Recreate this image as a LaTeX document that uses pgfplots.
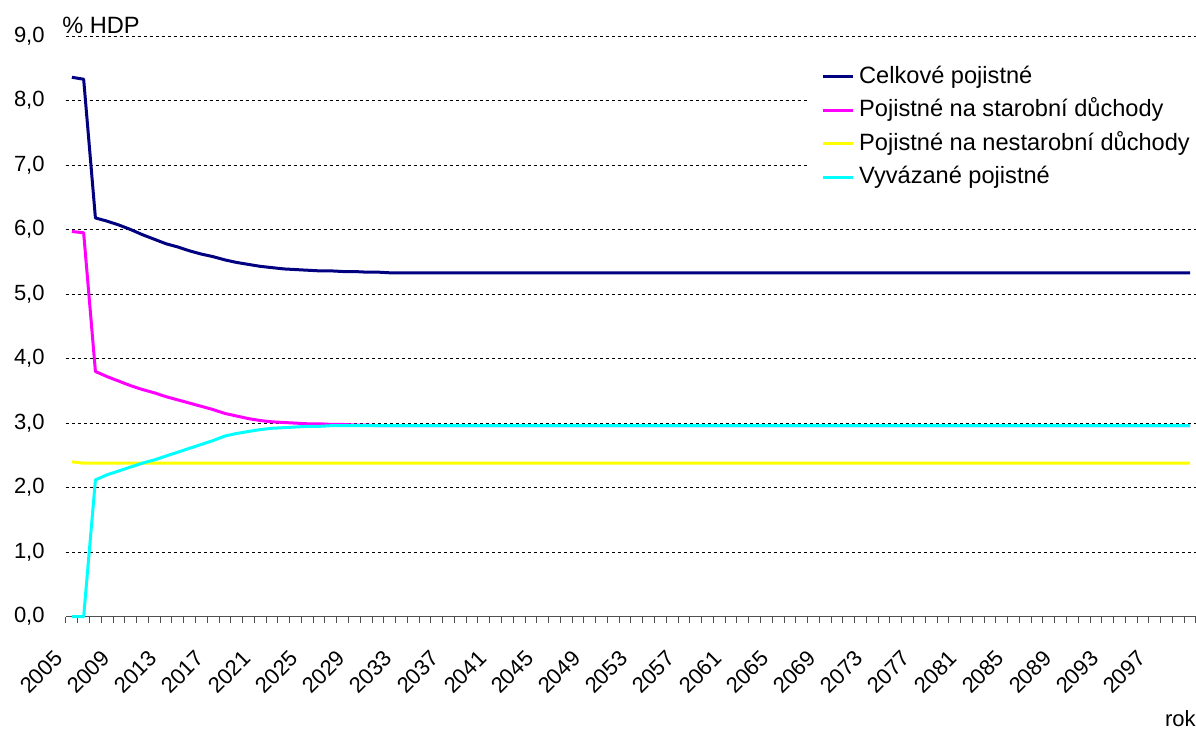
\documentclass[border=0pt]{standalone}
\usepackage{pgfplots}
\usepackage{pgfplotstable}
\pgfplotsset{compat=1.18}
\usepackage{fontspec}
\setmainfont{Liberation Sans}
\newcommand{\lab}{\fontsize{11pt}{13pt}\selectfont}
\newcommand{\leg}{\fontsize{11.8pt}{14pt}\selectfont}
\definecolor{celk}{RGB}{0,0,128}
\definecolor{star}{RGB}{255,0,255}
\definecolor{nest}{RGB}{255,255,0}
\definecolor{vyv}{RGB}{0,255,255}
\definecolor{osa}{RGB}{80,80,80}

\pgfplotstableread{
rok  celk  star  nestar vyv
2005 8.36 5.97 2.40 0.00
2006 8.33 5.95 2.38 0.00
2007 6.18 3.80 2.38 2.12
2008 6.13 3.72 2.38 2.20
2009 6.07 3.65 2.38 2.26
2010 6.00 3.58 2.38 2.32
2011 5.92 3.52 2.38 2.38
2012 5.85 3.47 2.38 2.43
2013 5.78 3.41 2.38 2.49
2014 5.73 3.36 2.38 2.55
2015 5.67 3.31 2.38 2.61
2016 5.62 3.26 2.38 2.67
2017 5.58 3.21 2.38 2.73
2018 5.53 3.15 2.38 2.80
2019 5.49 3.11 2.38 2.84
2020 5.46 3.07 2.38 2.87
2021 5.43 3.04 2.38 2.90
2022 5.41 3.02 2.38 2.92
2023 5.39 3.01 2.38 2.93
2024 5.38 3.00 2.38 2.94
2025 5.37 2.99 2.38 2.95
2026 5.36 2.99 2.38 2.95
2027 5.36 2.98 2.38 2.96
2028 5.35 2.98 2.38 2.96
2029 5.35 2.97 2.38 2.96
2030 5.34 2.97 2.38 2.96
2031 5.34 2.96 2.38 2.96
2032 5.33 2.96 2.38 2.96
2033 5.33 2.96 2.38 2.96
2034 5.33 2.96 2.38 2.96
2035 5.33 2.96 2.38 2.96
2036 5.33 2.96 2.38 2.96
2037 5.33 2.96 2.38 2.96
2038 5.33 2.96 2.38 2.96
2039 5.33 2.96 2.38 2.96
2040 5.33 2.96 2.38 2.96
2041 5.33 2.96 2.38 2.96
2042 5.33 2.96 2.38 2.96
2043 5.33 2.96 2.38 2.96
2044 5.33 2.96 2.38 2.96
2045 5.33 2.96 2.38 2.96
2046 5.33 2.96 2.38 2.96
2047 5.33 2.96 2.38 2.96
2048 5.33 2.96 2.38 2.96
2049 5.33 2.96 2.38 2.96
2050 5.33 2.96 2.38 2.96
2051 5.33 2.96 2.38 2.96
2052 5.33 2.96 2.38 2.96
2053 5.33 2.96 2.38 2.96
2054 5.33 2.96 2.38 2.96
2055 5.33 2.96 2.38 2.96
2056 5.33 2.96 2.38 2.96
2057 5.33 2.96 2.38 2.96
2058 5.33 2.96 2.38 2.96
2059 5.33 2.96 2.38 2.96
2060 5.33 2.96 2.38 2.96
2061 5.33 2.96 2.38 2.96
2062 5.33 2.96 2.38 2.96
2063 5.33 2.96 2.38 2.96
2064 5.33 2.96 2.38 2.96
2065 5.33 2.96 2.38 2.96
2066 5.33 2.96 2.38 2.96
2067 5.33 2.96 2.38 2.96
2068 5.33 2.96 2.38 2.96
2069 5.33 2.96 2.38 2.96
2070 5.33 2.96 2.38 2.96
2071 5.33 2.96 2.38 2.96
2072 5.33 2.96 2.38 2.96
2073 5.33 2.96 2.38 2.96
2074 5.33 2.96 2.38 2.96
2075 5.33 2.96 2.38 2.96
2076 5.33 2.96 2.38 2.96
2077 5.33 2.96 2.38 2.96
2078 5.33 2.96 2.38 2.96
2079 5.33 2.96 2.38 2.96
2080 5.33 2.96 2.38 2.96
2081 5.33 2.96 2.38 2.96
2082 5.33 2.96 2.38 2.96
2083 5.33 2.96 2.38 2.96
2084 5.33 2.96 2.38 2.96
2085 5.33 2.96 2.38 2.96
2086 5.33 2.96 2.38 2.96
2087 5.33 2.96 2.38 2.96
2088 5.33 2.96 2.38 2.96
2089 5.33 2.96 2.38 2.96
2090 5.33 2.96 2.38 2.96
2091 5.33 2.96 2.38 2.96
2092 5.33 2.96 2.38 2.96
2093 5.33 2.96 2.38 2.96
2094 5.33 2.96 2.38 2.96
2095 5.33 2.96 2.38 2.96
2096 5.33 2.96 2.38 2.96
2097 5.33 2.96 2.38 2.96
2098 5.33 2.96 2.38 2.96
2099 5.33 2.96 2.38 2.96
2100 5.33 2.96 2.38 2.96
}\data

\begin{document}
\begin{tikzpicture}
% whole picture = 1196 x 731 px at 0.5pt per px, axis box at its south west
\path[use as bounding box] (-33pt,-57.15pt) rectangle (565pt,308.35pt);
\begin{axis}[
    at={(0,0)}, anchor=south west,
    scale only axis,
    width=565pt, height=290.35pt,
    xmin=2004.5, xmax=2100.5,
    ymin=0, ymax=9,
    axis lines=left,
    axis line style={-},
    x axis line style={osa, line width=0.75pt},
    y axis line style={draw=none},
    ytick={0,1,...,9},
    xtick={2005,2009,...,2097},
    minor xtick={2004.5,2005.5,...,2100.5},
    tick align=outside,
    major tick length=0pt,
    minor tick length=3.2pt,
    minor x tick style={osa, line width=0.5pt},
    ytick style={draw=none},
    ymajorgrids,
    major grid style={black, line width=0.5pt, dash pattern=on 1.5pt off 1.5pt},
    yticklabel style={font=\lab, anchor=east, inner sep=0pt, xshift=-10.5pt},
    xticklabel style={font=\lab, inner sep=0pt, xshift=-6.5pt, yshift=-19pt, rotate=45, anchor=east},
    /pgf/number format/.cd, fixed, fixed zerofill, precision=1, use comma, 1000 sep={}, assume math mode=true,
    /pgfplots/.cd,
    xticklabel={\pgfmathprintnumber[fixed, precision=0, 1000 sep={}, assume math mode=true]{\tick}},
    legend style={at={(rel axis cs:0.6556,0.9592)}, anchor=north west,
        draw=none, fill=white, font=\leg, inner xsep=7pt, inner ysep=1.5pt,
        row sep=3.15pt, nodes={inner ysep=1pt, inner xsep=2.5pt, text height=9pt, text depth=2.6pt}},
    legend cell align=left,
    legend image code/.code={\draw[#1] (0pt,0pt) -- (15pt,0pt);},
    every axis plot/.append style={line width=1.5pt, line join=round},
    clip=false,
]
\addplot[celk] table[x=rok, y=celk] {\data};
\addlegendentry{Celkové pojistné}
\addplot[star] table[x=rok, y=star] {\data};
\addlegendentry{Pojistné na starobní důchody}
\addplot[nest] table[x=rok, y=nestar] {\data};
\addlegendentry{Pojistné na nestarobní důchody}
\addplot[vyv] table[x=rok, y=vyv] {\data};
\addlegendentry{Vyvázané pojistné}

\node[font=\leg, anchor=base west, inner sep=0pt] at ([xshift=-2pt, yshift=1.5pt]rel axis cs:0,1) {\% HDP};
\node[font=\lab, anchor=base east, inner sep=0pt] at ([yshift=-55pt]rel axis cs:1,0) {rok};
\end{axis}
\end{tikzpicture}
\end{document}
